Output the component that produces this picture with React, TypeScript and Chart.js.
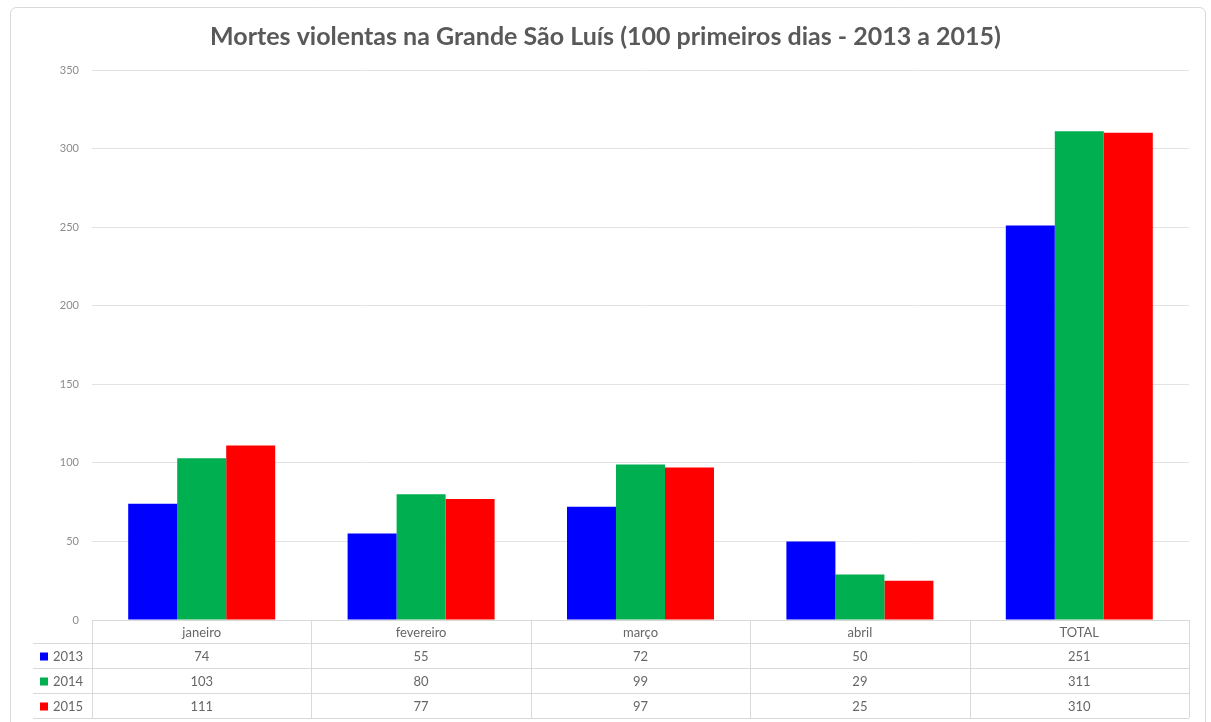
import React, { useEffect, useRef } from "react";
import { Chart, registerables } from "chart.js";

Chart.register(...registerables);

const titleText = "Mortes violentas na Grande São Luís (100 primeiros dias - 2013 a 2015)";
const categories = ["janeiro", "fevereiro", "março", "abril", "TOTAL"];
const seriesNames = ["2013", "2014", "2015"];
const values2013 = [74, 55, 72, 50, 251];
const values2014 = [103, 80, 99, 29, 311];
const values2015 = [111, 77, 97, 25, 310];
const seriesColors = ["#0000FF", "#00B050", "#FF0000"];
const yMax = 350;
const yStep = 50;

const seriesValues = [values2013, values2014, values2015];

const FONT = "Lato, 'Open Sans', sans-serif";

const framePlugin = {
  id: "frameAndTable",
  beforeDraw(chart: any) {
    const ctx = chart.ctx;
    ctx.save();
    ctx.fillStyle = "#ffffff";
    ctx.fillRect(0, 0, chart.width, chart.height);
    ctx.strokeStyle = "#d9d9d9";
    ctx.lineWidth = 1;
    ctx.beginPath();
    ctx.roundRect(10.5, 7.5, 1195, 740, 6);
    ctx.stroke();
    ctx.fillStyle = "#595959";
    ctx.font = `bold 25px ${FONT}`;
    ctx.textAlign = "center";
    ctx.textBaseline = "middle";
    ctx.fillText(titleText, chart.width / 2, 37);
    ctx.restore();
  },
  afterDraw(chart: any) {
    const ctx = chart.ctx;
    const area = chart.chartArea;
    const n = categories.length;
    const colW = (area.right - area.left) / n;
    const top = Math.round(area.bottom);
    const headerH = 23;
    const rowH = 25;
    const legendLeft = 33;
    const bottom = top + headerH + rowH * seriesNames.length;
    ctx.save();
    ctx.strokeStyle = "#d9d9d9";
    ctx.lineWidth = 1;
    ctx.beginPath();
    ctx.moveTo(area.left, top + 0.5);
    ctx.lineTo(area.right, top + 0.5);
    for (let r = 0; r <= seriesNames.length; r++) {
      const y = top + headerH + rowH * r + 0.5;
      ctx.moveTo(legendLeft, y);
      ctx.lineTo(area.right, y);
    }
    for (let c = 0; c <= n; c++) {
      const x = Math.round(area.left + colW * c) + 0.5;
      ctx.moveTo(x, top);
      ctx.lineTo(x, bottom);
    }
    ctx.stroke();

    ctx.fillStyle = "#666666";
    ctx.font = `13px ${FONT}`;
    ctx.textAlign = "center";
    ctx.textBaseline = "middle";
    for (let c = 0; c < n; c++) {
      const cx = chart.scales.x.getPixelForValue(c);
      ctx.fillText(categories[c], cx, top + headerH / 2 + 1);
      for (let r = 0; r < seriesNames.length; r++) {
        ctx.fillText(String(seriesValues[r][c]), cx, top + headerH + rowH * r + rowH / 2 + 1);
      }
    }
    ctx.textAlign = "left";
    for (let r = 0; r < seriesNames.length; r++) {
      const cy = top + headerH + rowH * r + rowH / 2;
      ctx.fillStyle = seriesColors[r];
      ctx.fillRect(40, cy - 3, 8, 8);
      ctx.fillStyle = "#666666";
      ctx.fillText(seriesNames[r], 53, cy + 1);
    }
    ctx.restore();
  },
};

export default function App() {
  const canvasRef = useRef<HTMLCanvasElement | null>(null);

  useEffect(() => {
    document.body.style.margin = "0";
    const canvas = canvasRef.current;
    if (!canvas) return;
    const chart = new Chart(canvas, {
      type: "bar",
      data: {
        labels: categories,
        datasets: seriesNames.map((name, i) => ({
          label: name,
          data: seriesValues[i],
          backgroundColor: seriesColors[i],
          borderWidth: 0,
          barPercentage: 1,
          categoryPercentage: 0.67,
        })),
      },
      options: {
        responsive: false,
        animation: false,
        layout: { padding: { left: 0, right: 22, top: 70, bottom: 102 } },
        plugins: {
          legend: { display: false },
          title: { display: false },
          tooltip: { enabled: false },
        },
        scales: {
          x: { display: false },
          y: {
            min: 0,
            max: yMax,
            ticks: {
              stepSize: yStep,
              color: "#8c8c8c",
              font: { family: FONT, size: 11 },
              padding: 13,
            },
            grid: { color: "#e3e3e3", drawTicks: false },
            border: { display: false },
            afterFit: (s: any) => {
              s.width = 92;
            },
          },
        },
      },
      plugins: [framePlugin],
    });
    return () => chart.destroy();
  }, []);

  return (
    <div style={{ width: 1211, height: 722 }}>
      <canvas ref={canvasRef} width={1211} height={722} style={{ display: "block" }} />
    </div>
  );
}
